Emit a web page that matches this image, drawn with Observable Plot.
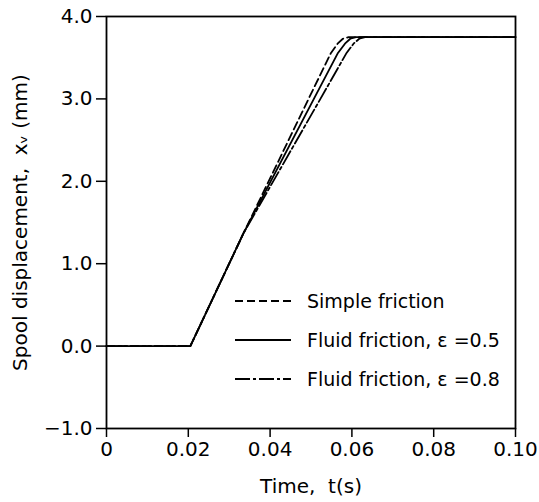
<!DOCTYPE html>
<html><head><meta charset="utf-8">
<script src="https://cdn.jsdelivr.net/npm/d3@7"></script>
<script src="https://cdn.jsdelivr.net/npm/@observablehq/plot@0.6"></script>
<style>
body{margin:0;background:#fff;font-family:"DejaVu Sans",sans-serif;}
#wrap{position:relative;width:539px;height:502px;}
#legend{position:absolute;left:235px;top:281px;font-size:19px;color:#000;}
#legend .row{display:flex;align-items:center;height:39px;}
#legend svg{width:56px;height:10px;margin-right:16px;}
</style>
</head><body><div id="wrap"></div>
<script>
const seriesNames = ["Simple friction", "Fluid friction, \u03b5 =0.5", "Fluid friction, \u03b5 =0.8"];
const dashes = ["8,4", null, "15,3,3,3"];
// time (s)
const tSimple = [0, 0.0205, 0.0335, 0.0494, 0.0548, 0.0565, 0.0578, 0.0592, 0.10];
const tFluid05 = [0, 0.0205, 0.0335, 0.0507, 0.0565, 0.0583, 0.0596, 0.0610, 0.10];
const tFluid08 = [0, 0.0205, 0.0335, 0.0523, 0.0586, 0.0604, 0.0618, 0.0632, 0.10];
// spool displacement (mm)
const xSimple = [0, 0, 1.37, 3.0, 3.55, 3.67, 3.73, 3.75, 3.75];
const xFluid05 = [0, 0, 1.37, 3.0, 3.55, 3.67, 3.73, 3.75, 3.75];
const xFluid08 = [0, 0, 1.37, 3.0, 3.55, 3.67, 3.73, 3.75, 3.75];
const xTicks = [0, 0.02, 0.04, 0.06, 0.08, 0.10];
const yTicks = [-1, 0, 1, 2, 3, 4];

const toRows = (ts, xs) => ts.map((t, i) => ({t, x: xs[i]}));
const rows = [toRows(tSimple, xSimple), toRows(tFluid05, xFluid05), toRows(tFluid08, xFluid08)];

const chart = Plot.plot({
  width: 539, height: 502,
  marginLeft: 106, marginRight: 24, marginTop: 16, marginBottom: 74,
  style: {fontFamily: "DejaVu Sans", fontSize: "20px", color: "#000", background: "#fff"},
  x: {domain: [0, 0.1]},
  y: {domain: [-1, 4]},
  marks: [
    Plot.axisX(xTicks, {tickFormat: d => d === 0 ? "0" : d.toFixed(2), tickSize: 9, tickPadding: 4, strokeWidth: 1.5,
      label: "Time,  t(s)", labelAnchor: "center", labelOffset: 64, labelArrow: "none", fontSize: 20}),
    Plot.axisY(yTicks, {tickFormat: d3.format(".1f"), tickSize: 10, tickPadding: 4, strokeWidth: 1.5,
      label: "Spool displacement,  x\u1d65 (mm)", labelAnchor: "center", labelOffset: 94, labelArrow: "none", fontSize: 20}),
    Plot.frame({stroke: "#000", strokeWidth: 1.8}),
    ...rows.map((r, i) => Plot.line(r, {x: "t", y: "x", stroke: "#000", strokeWidth: 1.8, strokeDasharray: dashes[i]}))
  ]
});
const wrap = document.getElementById("wrap");
wrap.appendChild(chart);
const legend = document.createElement("div");
legend.id = "legend";
legend.innerHTML = seriesNames.map((n, i) =>
  `<div class="row"><svg><line x1="0" x2="56" y1="5" y2="5" stroke="#000" stroke-width="1.8" ${dashes[i] ? `stroke-dasharray="${dashes[i]}"` : ""}/></svg><span>${n}</span></div>`).join("");
wrap.appendChild(legend);
</script>
</body></html>
